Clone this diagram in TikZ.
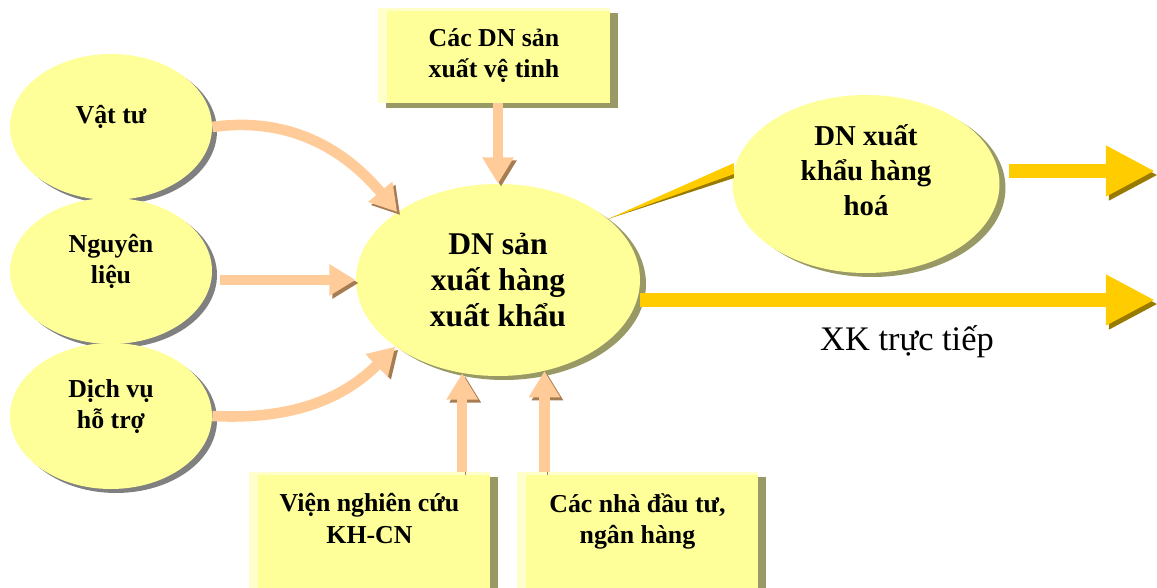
\documentclass[tikz,border=0pt]{standalone}
\usepackage{fontspec}
\setmainfont{Liberation Serif}
\usetikzlibrary{arrows.meta, shapes.geometric, shadows, positioning}
\definecolor{paleyellow}{HTML}{FFFF99}
\definecolor{lightstrip}{HTML}{FFFFCC}
\definecolor{greyshade}{HTML}{808080}
\definecolor{oliveshade}{HTML}{999966}
\definecolor{peach}{HTML}{FFCC99}
\definecolor{peachshade}{HTML}{A67C52}
\definecolor{gold}{HTML}{FFCC00}
\definecolor{goldshade}{HTML}{997A00}
\newlength\pxu
\setlength\pxu{0.02cm}

\begin{document}
\begin{tikzpicture}[x=\pxu, y=\pxu,
    source/.style={ellipse, fill=paleyellow, minimum width=202\pxu, minimum height=146\pxu,
      inner sep=0pt, align=center, text depth=14pt,
      font=\bfseries\fontsize{14.7}{17.5}\selectfont,
      drop shadow={shadow xshift=5\pxu, shadow yshift=-4\pxu, shadow scale=1, fill=greyshade, opacity=1}},
    hub/.style={ellipse, fill=paleyellow, inner sep=0pt, align=center,
      drop shadow={shadow xshift=6\pxu, shadow yshift=-4\pxu, shadow scale=1, fill=oliveshade, opacity=1}},
    partner/.style={rectangle, fill=paleyellow, minimum width=241\pxu, inner xsep=6pt, align=center,
      font=\bfseries\fontsize{14.7}{18}\selectfont,
      path picture={
        \fill[lightstrip] (path picture bounding box.south west) rectangle ([xshift=9\pxu]path picture bounding box.north west);
        \fill[lightstrip] ([yshift=-3\pxu]path picture bounding box.north west) rectangle (path picture bounding box.north east);},
      drop shadow={shadow xshift=8\pxu, shadow yshift=-5\pxu, shadow scale=1, fill=oliveshade, opacity=1}},
    feed/.style={draw=peach, line width=6pt, -{Triangle[length=15pt, width=17pt]},
      preaction={draw=peachshade, transform canvas={shift={(1.7pt,-1.7pt)}}}},
    flow/.style={draw=gold, line width=8.5pt, -{Triangle[length=28pt, width=27pt]},
      preaction={draw=goldshade, transform canvas={shift={(1.7pt,-2.3pt)}}}}]

    \useasboundingbox (0,0) rectangle (1157,588);

    % Inputs on the left
    \node[source] (vattu) at (111,461) {Vật tư};
    \node[source] (nguyenlieu) at (111,317) {Nguyên\\liệu};
    \node[source] (dichvu) at (111,172) {Dịch vụ\\hỗ trợ};

    % Producer and exporter
    \node[hub, minimum width=284\pxu, minimum height=192\pxu,
      font=\bfseries\fontsize{18}{20.4}\selectfont] (prod) at (498,308) {DN sản\\xuất hàng\\xuất khẩu};
    \node[hub, minimum width=267\pxu, minimum height=178\pxu, text depth=16pt,
      font=\bfseries\fontsize{16.4}{19.8}\selectfont] (export) at (866,404) {DN xuất\\khẩu hàng\\hoá};

    % Supporting partners
    \node[partner, minimum width=232\pxu, minimum height=95\pxu] (vetinh) at (494,532.5) {Các DN sản\\xuất vệ tinh};
    \node[partner, anchor=north, inner ysep=12pt, text depth=26pt] (vien) at (369.5,116) {Viện nghiên cứu\\KH-CN};
    \node[partner, anchor=north, inner ysep=12pt, text depth=26pt] (dautu) at (637.5,116) {Các nhà đầu tư,\\ngân hàng};

    % Feeding arrows
    \draw[feed] (vattu.east) to[out=8, in=130] (prod.146);
    \draw[feed, shorten <=8\pxu] (nguyenlieu.east |- prod.west) -- (prod.west);
    \draw[feed] (dichvu.east) to[out=-3, in=-135] (prod.213);
    \draw[feed] (vetinh.south -| prod.north) -- (prod.north);
    \draw[feed] (prod.249 |- vien.north) -- (prod.249);
    \draw[feed] (prod.297 |- dautu.north) -- (prod.297);

    % Export channels
    \fill[goldshade] (prod.29) -- ([yshift=-8\pxu]export.174) -- ([yshift=2\pxu]export.174) -- cycle;
    \fill[gold] (prod.29) -- ([yshift=-4\pxu]export.174) -- ([yshift=7\pxu]export.174) -- cycle;
    \coordinate (upperend) at (1155,417);
    \coordinate (lowerend) at (1155,288);
    \draw[flow, shorten <=9\pxu] (export.east |- upperend) -- (upperend);
    \draw[flow] (prod.east |- lowerend) -- (lowerend);
    \node[font=\fontsize{19.6}{22}\selectfont] (direct) at (907,246) {XK trực tiếp};
\end{tikzpicture}
\end{document}
